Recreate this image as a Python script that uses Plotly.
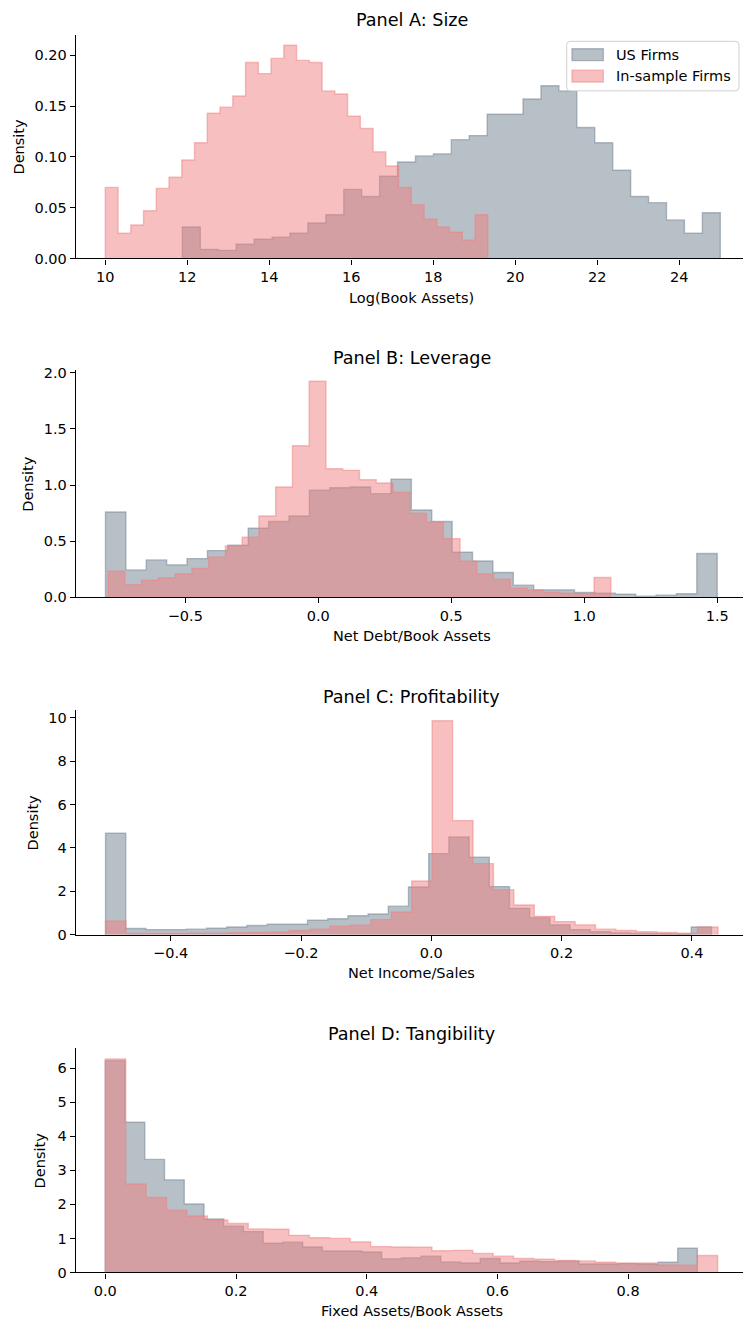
import numpy as np
import plotly.graph_objects as go

# ---------------- data (densities) ----------------
size_us_range = (11.88, 25.0)
size_us = [0.031, 0.009, 0.008, 0.014, 0.019, 0.021, 0.025, 0.035, 0.043, 0.068,
           0.061, 0.081, 0.095, 0.101, 0.103, 0.117, 0.121, 0.142, 0.142, 0.157,
           0.170, 0.165, 0.129, 0.114, 0.087, 0.061, 0.055, 0.038, 0.025, 0.045]
size_in_range = (10.0, 19.33)
size_in = [0.070, 0.025, 0.033, 0.047, 0.069, 0.080, 0.097, 0.114, 0.143, 0.149,
           0.160, 0.193, 0.182, 0.197, 0.210, 0.195, 0.193, 0.165, 0.162, 0.140,
           0.128, 0.105, 0.091, 0.070, 0.053, 0.039, 0.031, 0.026, 0.018, 0.043]

lev_us_range = (-0.80, 1.50)
lev_us = [0.760, 0.243, 0.332, 0.288, 0.344, 0.415, 0.463, 0.614, 0.674, 0.724,
          0.953, 0.976, 0.982, 0.923, 1.053, 0.777, 0.674, 0.401, 0.323, 0.220,
          0.107, 0.065, 0.065, 0.042, 0.036, 0.027, 0.009, 0.018, 0.030, 0.389]
lev_in_range = (-0.79, 1.10)
lev_in = [0.231, 0.110, 0.151, 0.172, 0.208, 0.255, 0.359, 0.457, 0.534, 0.724,
          0.982, 1.350, 1.926, 1.145, 1.131, 1.047, 1.018, 0.935, 0.748, 0.671,
          0.522, 0.320, 0.208, 0.160, 0.080, 0.062, 0.045, 0.036, 0.033, 0.175]

prof_us_range = (-0.50, 0.43)
prof_us = [4.68, 0.29, 0.24, 0.24, 0.26, 0.30, 0.36, 0.43, 0.49, 0.49,
           0.67, 0.74, 0.88, 0.96, 1.32, 2.20, 3.74, 4.51, 3.57, 2.22,
           1.22, 0.79, 0.46, 0.24, 0.14, 0.09, 0.06, 0.05, 0.04, 0.36]
prof_in_range = (-0.50, 0.44)
prof_in = [0.64, 0.06, 0.06, 0.06, 0.07, 0.08, 0.10, 0.11, 0.12, 0.20,
           0.26, 0.40, 0.44, 0.70, 1.05, 2.48, 9.86, 5.26, 3.28, 2.08,
           1.37, 0.85, 0.61, 0.46, 0.26, 0.20, 0.14, 0.11, 0.08, 0.36]

tang_us_range = (0.0, 0.906)
tang_us = [6.22, 4.41, 3.32, 2.72, 2.01, 1.57, 1.36, 1.20, 0.86, 0.89,
           0.75, 0.63, 0.63, 0.60, 0.40, 0.43, 0.48, 0.31, 0.28, 0.41,
           0.28, 0.33, 0.32, 0.34, 0.25, 0.25, 0.26, 0.25, 0.30, 0.71]
tang_in_range = (0.0, 0.937)
tang_in = [6.27, 2.60, 2.20, 1.83, 1.66, 1.54, 1.44, 1.28, 1.27, 1.09,
           1.02, 1.00, 0.90, 0.76, 0.75, 0.74, 0.64, 0.65, 0.56, 0.48,
           0.41, 0.39, 0.35, 0.34, 0.30, 0.28, 0.28, 0.22, 0.21, 0.50]

titles = ["Panel A: Size", "Panel B: Leverage", "Panel C: Profitability", "Panel D: Tangibility"]
xlabels = ["Log(Book Assets)", "Net Debt/Book Assets", "Net Income/Sales", "Fixed Assets/Book Assets"]
series_names = ["US Firms", "In-sample Firms"]

x_tickvals = [[10, 12, 14, 16, 18, 20, 22, 24],
              [-0.5, 0.0, 0.5, 1.0, 1.5],
              [-0.4, -0.2, 0.0, 0.2, 0.4],
              [0.0, 0.2, 0.4, 0.6, 0.8]]
x_ticktext = [["10", "12", "14", "16", "18", "20", "22", "24"],
              ["\u22120.5", "0.0", "0.5", "1.0", "1.5"],
              ["\u22120.4", "\u22120.2", "0.0", "0.2", "0.4"],
              ["0.0", "0.2", "0.4", "0.6", "0.8"]]
y_tickvals = [[0.0, 0.05, 0.10, 0.15, 0.20],
              [0.0, 0.5, 1.0, 1.5, 2.0],
              [0, 2, 4, 6, 8, 10],
              [0, 1, 2, 3, 4, 5, 6]]
y_ticktext = [["0.00", "0.05", "0.10", "0.15", "0.20"],
              ["0.0", "0.5", "1.0", "1.5", "2.0"],
              ["0", "2", "4", "6", "8", "10"],
              ["0", "1", "2", "3", "4", "5", "6"]]

panels = [
    (size_us_range, size_us, size_in_range, size_in),
    (lev_us_range, lev_us, lev_in_range, lev_in),
    (prof_us_range, prof_us, prof_in_range, prof_in),
    (tang_us_range, tang_us, tang_in_range, tang_in),
]

# ---------------- layout geometry (pixels in a 743 x 1329 canvas) ----------------
W, H = 743, 1329
LEFT = 75.7
axes_px = [(29.8, 256.0), (369.0, 598.0), (712.0, 939.0), (1053.6, 1280.0)]  # top, bottom
x_ranges = [(9.278, 25.554), (-0.912, 1.597), (-0.5458, 0.4784), (-0.0453, 0.9758)]
title_y = [15.5, 356.5, 698.5, 1039.0]
xlabel_y = [296.0, 637.0, 978.0, 1319.0]
ylabel_x = [19.0, 28.0, 33.0, 40.0]

US_FILL = "rgba(112,128,144,0.5)"
IN_FILL = "rgba(240,128,128,0.5)"
FONT = "DejaVu Sans"
TICK_SIZE = 14.5
TITLE_SIZE = 17.6


def px_x(v):
    return v / W


def px_y(v):
    return 1 - v / H


def step_xy(rng, vals):
    edges = np.linspace(rng[0], rng[1], len(vals) + 1)
    xs = [edges[0]] + list(edges) + [edges[-1]]
    ys = [0.0] + list(vals) + [vals[-1], 0.0]
    return xs, ys


fig = go.Figure()
for i, (ur, uv, ir, iv) in enumerate(panels):
    ax = "" if i == 0 else str(i + 1)
    for name, rng, vals, col in [(series_names[0], ur, uv, US_FILL), (series_names[1], ir, iv, IN_FILL)]:
        xs, ys = step_xy(rng, vals)
        fig.add_trace(go.Scatter(
            x=xs, y=ys, mode="lines", line=dict(shape="hv", color=col, width=1.4),
            fill="tozeroy", fillcolor=col, name=name, showlegend=False,
            xaxis="x" + ax, yaxis="y" + ax, hoverinfo="skip"))

axis_common = dict(showline=True, linecolor="black", linewidth=1.1, ticks="outside",
                   ticklen=5, tickwidth=1.1, tickcolor="black", showgrid=False,
                   zeroline=False, tickfont=dict(family=FONT, size=TICK_SIZE, color="black"))

layout = dict(width=W, height=H, margin=dict(l=0, r=0, t=0, b=0),
              plot_bgcolor="white", paper_bgcolor="white",
              font=dict(family=FONT, size=TICK_SIZE, color="black"),
              showlegend=False)

annotations = []
shapes = []
for i in range(4):
    ax = "" if i == 0 else str(i + 1)
    top, bot = axes_px[i]
    ymax = max(max(panels[i][1]), max(panels[i][3])) * 1.05
    layout["xaxis" + ax] = dict(axis_common, domain=[LEFT / W, 1.0], anchor="y" + ax,
                                range=list(x_ranges[i]), tickvals=x_tickvals[i],
                                ticktext=x_ticktext[i])
    layout["yaxis" + ax] = dict(axis_common, domain=[1 - bot / H, 1 - top / H], anchor="x" + ax,
                                range=[0, ymax], tickvals=y_tickvals[i], ticktext=y_ticktext[i])
    cx = (LEFT + 748) / 2 / W
    annotations.append(dict(text=titles[i], x=cx, y=px_y(title_y[i]), xref="paper", yref="paper",
                            showarrow=False, xanchor="center", yanchor="middle",
                            font=dict(family=FONT, size=TITLE_SIZE, color="black")))
    annotations.append(dict(text=xlabels[i], x=cx, y=px_y(xlabel_y[i]), xref="paper", yref="paper",
                            showarrow=False, xanchor="center", yanchor="middle",
                            font=dict(family=FONT, size=TICK_SIZE, color="black")))
    annotations.append(dict(text="Density", x=px_x(ylabel_x[i]), y=px_y((top + bot) / 2),
                            xref="paper", yref="paper", showarrow=False, textangle=-90,
                            xanchor="center", yanchor="middle",
                            font=dict(family=FONT, size=TICK_SIZE, color="black")))

# ---------------- legend box (matplotlib style, in panel A) ----------------
lx0, ly0, lx1, ly1, r = 566.7, 36.7, 739.0, 86.7, 3.5
box_path = (f"M {px_x(lx0 + r)},{px_y(ly0)} L {px_x(lx1 - r)},{px_y(ly0)} "
            f"Q {px_x(lx1)},{px_y(ly0)} {px_x(lx1)},{px_y(ly0 + r)} "
            f"L {px_x(lx1)},{px_y(ly1 - r)} Q {px_x(lx1)},{px_y(ly1)} {px_x(lx1 - r)},{px_y(ly1)} "
            f"L {px_x(lx0 + r)},{px_y(ly1)} Q {px_x(lx0)},{px_y(ly1)} {px_x(lx0)},{px_y(ly1 - r)} "
            f"L {px_x(lx0)},{px_y(ly0 + r)} Q {px_x(lx0)},{px_y(ly0)} {px_x(lx0 + r)},{px_y(ly0)} Z")
shapes.append(dict(type="path", path=box_path, xref="paper", yref="paper",
                   fillcolor="rgba(255,255,255,0.8)", line=dict(color="#d0d0d0", width=1),
                   layer="above"))
row_centers = [50.2, 71.8]
for name, col, cy in zip(series_names, [US_FILL, IN_FILL], row_centers):
    shapes.append(dict(type="rect", xref="paper", yref="paper",
                       x0=px_x(572.0), x1=px_x(603.3), y0=px_y(cy - 6.0), y1=px_y(cy + 6.0),
                       fillcolor=col, line=dict(color=col, width=1.4), layer="above"))
    annotations.append(dict(text=name, x=px_x(613.5), y=px_y(cy), xref="paper", yref="paper",
                            showarrow=False, xanchor="left", yanchor="middle",
                            font=dict(family=FONT, size=TICK_SIZE, color="black")))

layout["annotations"] = annotations
layout["shapes"] = shapes

fig.update_layout(**layout)
fig.write_html("out.html")
